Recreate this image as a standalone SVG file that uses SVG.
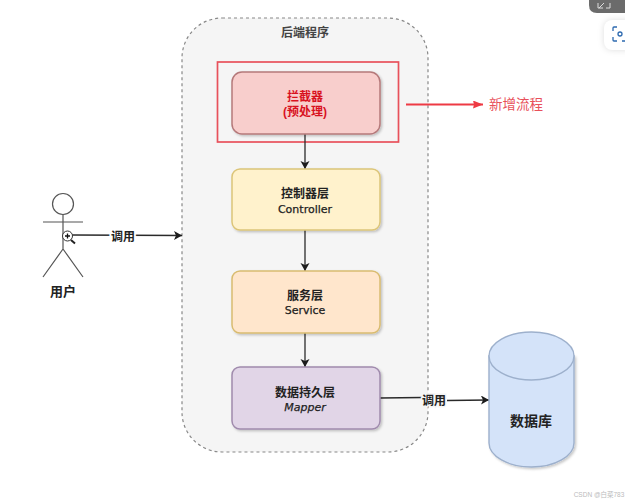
<svg xmlns="http://www.w3.org/2000/svg" width="625" height="500" viewBox="0 0 625 500">
<style>
text{font-family:"Liberation Sans","Noto Sans CJK SC",sans-serif;text-anchor:middle;fill:#222}
.b{font-weight:bold;font-size:12px}
.l{font-family:"DejaVu Sans",sans-serif;font-size:11px;stroke:#222;stroke-width:.25}
.n{stroke-width:1.5}
.c{fill:none;stroke:#2a2a2a;stroke-width:1.3}
.a{fill:none;stroke:#555;stroke-width:1.2}
</style>
<defs>
<marker id="arr" markerWidth="10" markerHeight="10" refX="8" refY="4.500" orient="auto" markerUnits="userSpaceOnUse"><path d="M0 0L8 4.500L0 9L2 4.500Z" fill="#1c1c1c"/></marker>
<marker id="arrR" markerWidth="12" markerHeight="10" refX="10" refY="4" orient="auto" markerUnits="userSpaceOnUse"><path d="M0 0L10 4L0 8L1 4Z" fill="#ee3a44"/></marker>
<filter id="sh" x="-5%" y="-5%" width="112%" height="115%"><feDropShadow dx="1.500" dy="1.500" stdDeviation="1" flood-color="#000" flood-opacity=".22"/></filter>
</defs>
<rect width="625" height="500" fill="#fff"/>
<g id="backend">
<rect x="182" y="18" width="246" height="434" rx="40" fill="#f5f5f5" stroke="#888" stroke-width="1.200" stroke-dasharray="3 3"/>
<text x="305" y="37" class="b" style="fill:#444">后端程序</text>
</g>
<g id="highlight"><rect x="217.500" y="62" width="181" height="80" fill="none" stroke="#e8515b" stroke-width="1.700"/></g>
<g id="connectors">
<path class="c" d="M305 134V169" marker-end="url(#arr)"/>
<path class="c" d="M305 230V271" marker-end="url(#arr)"/>
<path class="c" d="M305 333V367" marker-end="url(#arr)"/>
<path class="c" d="M72 235L182 235.500" marker-end="url(#arr)"/>
<path class="c" d="M380 398L422 397.500M447 400.500L489 400" marker-end="url(#arr)"/>
<path d="M406 104.500H483" fill="none" stroke="#ee3a44" stroke-width="1.800" marker-end="url(#arrR)"/>
<text x="123" y="241" class="b" style="paint-order:stroke;stroke:#fff;stroke-width:4">调用</text>
<text x="434" y="405" class="b" style="paint-order:stroke;stroke:#f5f5f5;stroke-width:3">调用</text>
<text x="516" y="109" font-size="13.500" style="fill:#e8505a">新增流程</text>
</g>
<g id="interceptor">
<rect class="n" x="232" y="72" width="148" height="62" rx="10" fill="#f8cecc" stroke="#b5797a" filter="url(#sh)"/>
<text x="305" y="101" class="b" style="fill:#d8121f">拦截器</text>
<text x="305" y="116" class="b" style="fill:#d8121f">(预处理)</text>
</g>
<g id="controller">
<rect class="n" x="232" y="169" width="148" height="61" rx="8" fill="#fff2cc" stroke="#dcc578" filter="url(#sh)"/>
<text x="305" y="198" class="b">控制器层</text>
<text x="305" y="213" class="l">Controller</text>
</g>
<g id="service">
<rect class="n" x="232" y="271" width="148" height="62" rx="8" fill="#ffe6cc" stroke="#d9bc70" filter="url(#sh)"/>
<text x="305" y="300" class="b">服务层</text>
<text x="305" y="314" class="l">Service</text>
</g>
<g id="mapper">
<rect class="n" x="232" y="367" width="148" height="62" rx="8" fill="#e1d5e7" stroke="#a08bad" filter="url(#sh)"/>
<text x="305" y="397" class="b">数据持久层</text>
<text x="305" y="411" class="l" font-style="italic">Mapper</text>
</g>
<g id="database">
<path d="M489 356V443C489 456 508 467 531.500 467S574 456 574 443V356Z" fill="#d4e3f9" stroke="#9db0cc" stroke-width="1.400" filter="url(#sh)"/>
<ellipse cx="531.500" cy="356" rx="42.500" ry="24" fill="#d4e3f9" stroke="#9db0cc" stroke-width="1.400"/>
<text x="531" y="426" font-size="14" font-weight="bold">数据库</text>
</g>
<g id="user">
<circle class="a" cx="63" cy="204" r="10.500"/>
<path class="a" d="M63 214.500V249M43 222H83M63 249L43 277M63 249L83 277"/>
<circle cx="67.500" cy="236" r="5" fill="#fff" stroke="#333"/>
<path d="M65 236H70M67.500 233.500V238.500" stroke="#111" stroke-width="1.300"/>
<path d="M71 240L75 243.500" stroke="#222" stroke-width="2"/>
<text x="63" y="296" font-size="13" font-weight="bold">用户</text>
</g>
<g id="viewer-controls">
<path d="M589 0H625V13H597Q589 13 589 5Z" fill="#6b6b6b"/>
<path d="M598 3V8H603M604 3L599 8M610 3V8H606" fill="none" stroke="#ddd" stroke-width="1"/>
<rect x="604" y="20" width="30" height="30" rx="8" fill="#fff" style="filter:drop-shadow(0 0 3px #ddd)"/>
<path d="M617 27H614Q613 27 613 28V31M613 37V40Q613 41 614 41H617M622 41H625" fill="none" stroke="#2d6ab0" stroke-width="1.300"/>
<circle cx="620" cy="34" r="2" fill="none" stroke="#2d6ab0" stroke-width="1.300"/>
</g>
<text x="599" y="497" font-size="6.500" style="fill:#bbb">CSDN @白菜783</text>
</svg>
